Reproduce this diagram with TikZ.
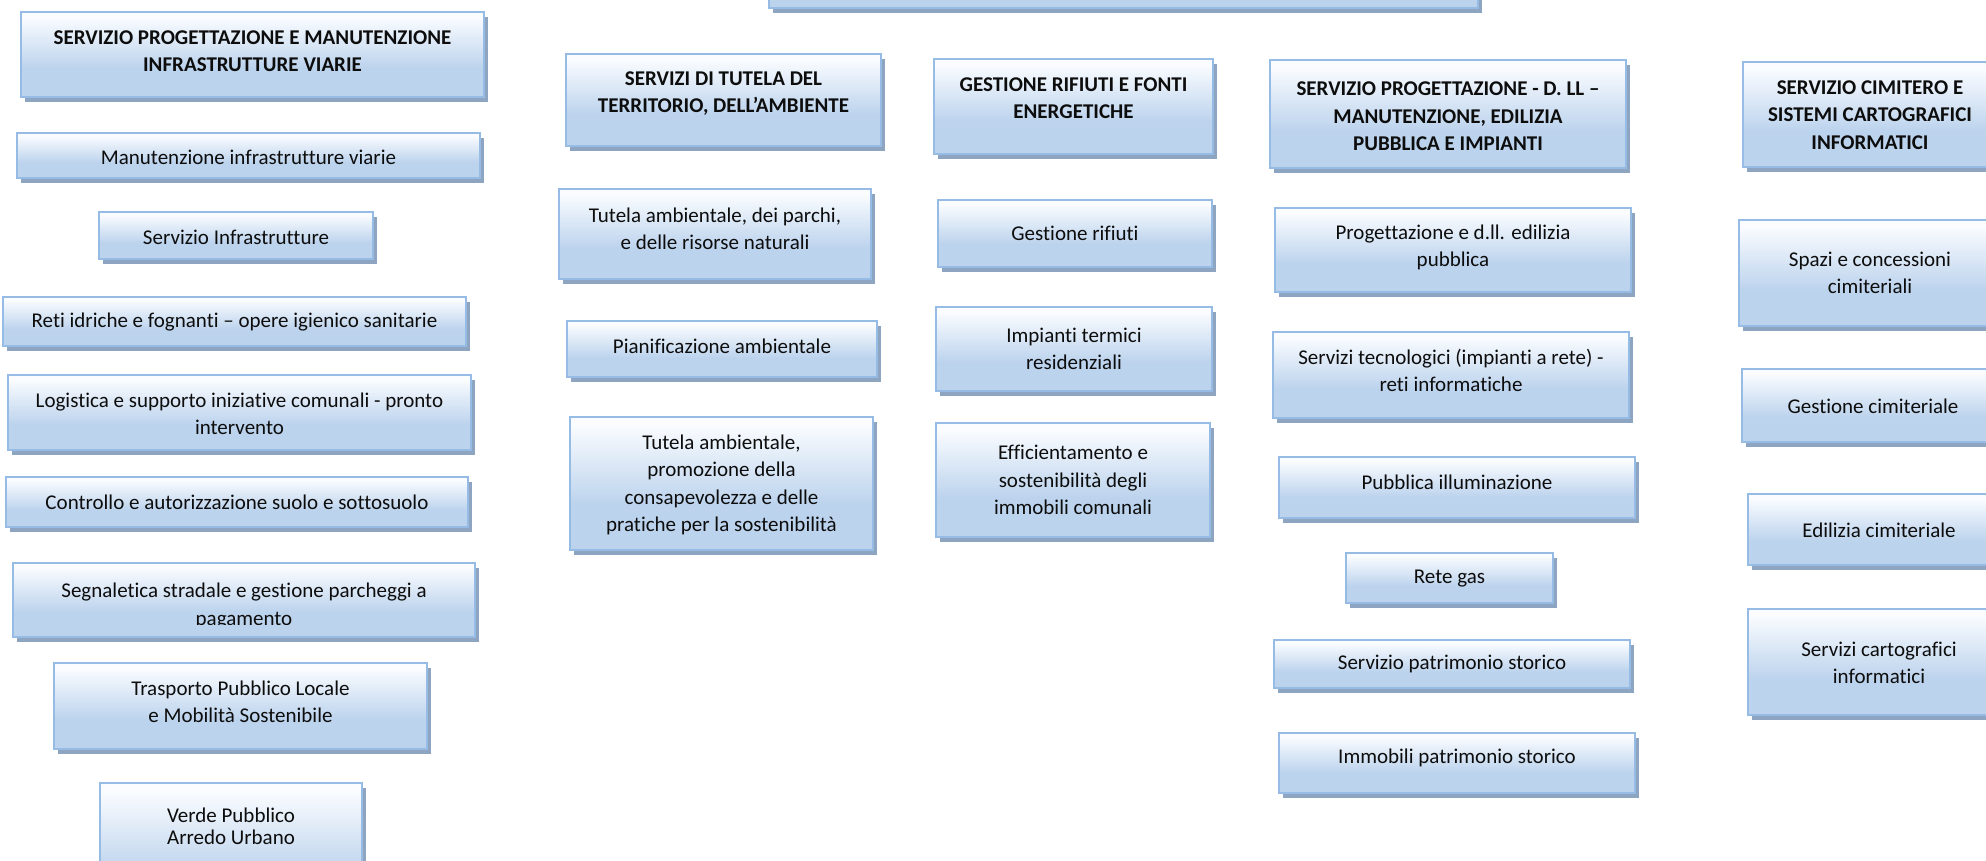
\documentclass[tikz,border=0pt]{standalone}
\usepackage{fontspec}
\setmainfont{Carlito}[Ligatures=NoCommon]
\usetikzlibrary{shadows}
\definecolor{boxline}{RGB}{150,187,228}
\definecolor{boxbot}{RGB}{188,211,237}
\definecolor{boxtop}{RGB}{250,252,255}
\definecolor{shadowc}{RGB}{141,165,192}
\definecolor{txtc}{RGB}{13,13,13}
\pgfdeclareverticalshading{boxshade}{100bp}{color(0bp)=(boxbot); color(25bp)=(boxbot); color(42bp)=(boxbot); color(72bp)=(boxtop); color(100bp)=(boxtop)}
\tikzset{
  ubx/.style={draw=boxline, line width=1pt, shade, shading=boxshade, inner sep=0pt, outer sep=0pt,
    drop shadow={shadow xshift=2pt, shadow yshift=-2.5pt, fill=shadowc, opacity=1}},
  utx/.style={font=\fontsize{10.5}{13.75}\selectfont, align=center, inner sep=0pt, text=txtc},
  utxb/.style={utx, font=\fontsize{10.5}{13.75}\selectfont\bfseries},
}
% #1 text style, #2 name, #3 x1, #4 y1, #5 x2, #6 y2, #7 text y, #8 text
\newcommand\ubox[8]{%
  \node[ubx, minimum width={(#5-#3)*0.5pt}, minimum height={(#6-#4)*0.5pt}] (#2) at ({(#3+#5)/2},{(#4+#6)/2}) {};
  \node[#1] (#2-t) at ({(#3+#5)/2},#7) {#8};
}
\begin{document}
\begin{tikzpicture}[x=0.5pt, y=-0.5pt]
\useasboundingbox (0,0) rectangle (1986,861);
\clip (0,0) rectangle (1986,861);

% top (cut-off) box
\node[ubx, minimum width={(1478-769)*0.5pt}, minimum height={(8+80)*0.5pt}] (top) at ({(769+1478)/2},{(8-80)/2}) {};

% left column
\ubox{utxb}{t1}{21}{12}{484}{97}{51}{SERVIZIO PROGETTAZIONE E MANUTENZIONE\\INFRASTRUTTURE VIARIE}
\ubox{utx}{l1}{17}{133}{480}{178}{157}{Manutenzione infrastrutture viarie}
\ubox{utx}{l2}{99}{212}{373}{259}{237}{Servizio Infrastrutture}
\ubox{utx}{l3}{3}{297}{466}{346}{322}{Reti idriche e fognanti – opere igienico sanitarie}
\ubox{utx}{l4}{8}{375}{471}{450}{414}{Logistica e supporto iniziative comunali - pronto\\intervento}
\ubox{utx}{l5}{6}{477}{468}{527}{502}{Controllo e autorizzazione suolo e sottosuolo}
\node[ubx, minimum width={(475-13)*0.5pt}, minimum height={(637-563)*0.5pt}] (l6) at ({(13+475)/2},{(563+637)/2}) {};
\begin{scope}
  \clip (13,563) rectangle (475,624);
  \node[utx] (l6-t) at ({(13+475)/2},606) {Segnaletica stradale e gestione parcheggi a\\pagamento};
\end{scope}
\ubox{utx}{l7}{54}{663}{427}{749}{702}{Trasporto Pubblico Locale\\e Mobilità Sostenibile}
\ubox{utx,font=\fontsize{10.5}{11}\selectfont}{l8}{100}{783}{362}{920}{826}{Verde Pubblico\\Arredo Urbano}

% middle column 1
\ubox{utxb}{t2}{566}{54}{881}{146}{93.5}{SERVIZI DI TUTELA DEL\\TERRITORIO, DELL’AMBIENTE}
\ubox{utx}{m1}{559}{189}{871}{279}{229}{Tutela ambientale, dei parchi,\\e delle risorse naturali}
\ubox{utx}{m2}{567}{321}{877}{377}{346}{Pianificazione ambientale}
\ubox{utx}{m3}{570}{417}{873}{550}{485}{Tutela ambientale,\\promozione della\\consapevolezza e delle\\pratiche per la sostenibilità}

% middle column 2
\ubox{utxb}{t3}{934}{59}{1213}{154}{98}{GESTIONE RIFIUTI E FONTI\\ENERGETICHE}
\ubox{utx}{n1}{938}{200}{1212}{267}{233}{Gestione rifiuti}
\ubox{utx}{n2}{936}{307}{1212}{391}{349}{Impianti termici\\residenziali}
\ubox{utx}{n3}{936}{423}{1210}{537}{480}{Efficientamento e\\sostenibilità degli\\immobili comunali}

% right column
\ubox{utxb}{t4}{1270}{60}{1626}{168}{116.5}{SERVIZIO PROGETTAZIONE - D. LL –\\MANUTENZIONE, EDILIZIA\\PUBBLICA E IMPIANTI}
\ubox{utx}{r1}{1275}{208}{1631}{292}{247.5}{Progettazione e d.ll. edilizia\\pubblica}
\ubox{utx}{r2}{1273}{332}{1629}{418}{370.5}{Servizi tecnologici (impianti a rete) -\\reti informatiche}
\ubox{utx}{r3}{1279}{457}{1635}{518}{482}{Pubblica illuminazione}
\ubox{utx}{r4}{1346}{553}{1553}{603}{579}{Rete gas}
\ubox{utx}{r5}{1274}{640}{1630}{688}{664}{Servizio patrimonio storico}
\ubox{utx}{r6}{1279}{733}{1635}{793}{758}{Immobili patrimonio storico}

% far right column
\ubox{utxb}{t5}{1743}{62}{1997}{167}{115}{SERVIZIO CIMITERO E\\SISTEMI CARTOGRAFICI\\INFORMATICI}
\ubox{utx}{c1}{1739}{220}{2001}{326}{273}{Spazi e concessioni\\cimiteriali}
\ubox{utx}{c2}{1742}{369}{2004}{442}{406}{Gestione cimiteriale}
\ubox{utx}{c3}{1748}{494}{2010}{565}{530}{Edilizia cimiteriale}
\ubox{utx}{c4}{1748}{609}{2010}{715}{663}{Servizi cartografici\\informatici}
\end{tikzpicture}
\end{document}
